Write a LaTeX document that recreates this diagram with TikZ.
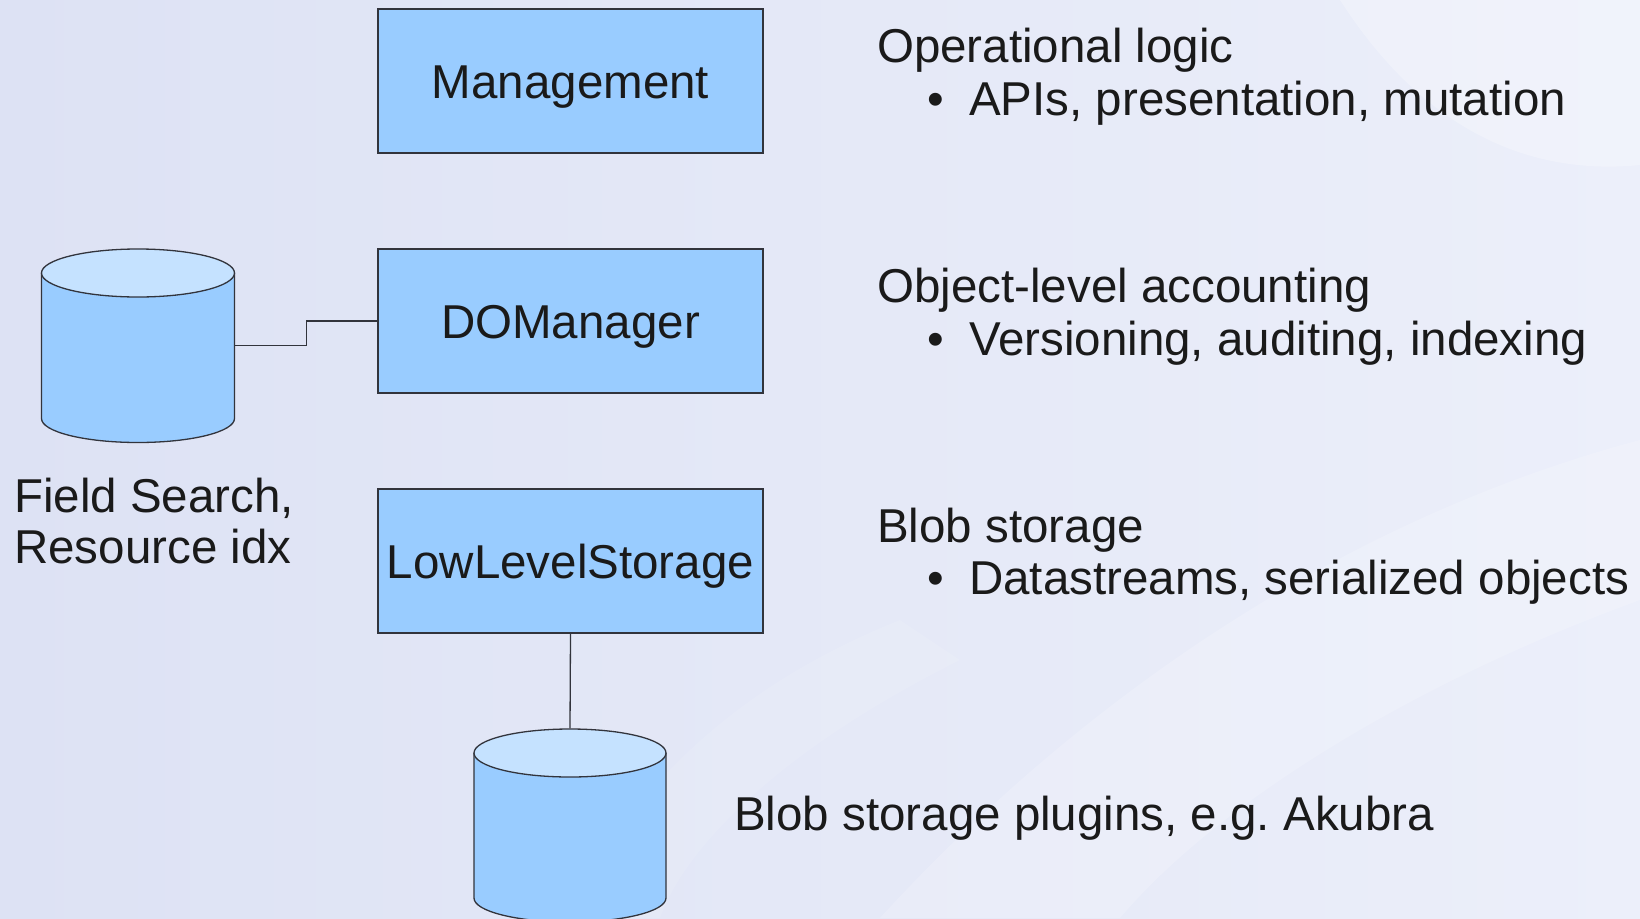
\documentclass[tikz,border=0pt]{standalone}
\usepackage{fontspec}
\setmainfont{Liberation Sans}
\definecolor{boxblue}{RGB}{153,204,255}
\definecolor{topblue}{RGB}{197,226,255}
\definecolor{linec}{RGB}{50,52,60}
\definecolor{txt}{RGB}{26,26,26}
\definecolor{bgl}{RGB}{221,226,244}
\definecolor{bgr}{RGB}{236,239,250}
\begin{document}
\frenchspacing
\begin{tikzpicture}[x=1pt,y=-1pt,
  box/.style={draw=linec, fill=boxblue, line width=1.3pt, minimum width=385pt, minimum height=144pt, inner sep=0pt, text height=35pt, text depth=0pt, font=\fontsize{47.5}{53}\selectfont, text=txt},
  lbl/.style={anchor=base west, inner sep=0pt, font=\fontsize{47.5}{53}\selectfont\frenchspacing, text=txt},
  cylarea/.style={inner sep=0pt, minimum width=193pt, minimum height=194pt},
  cylbody/.style={fill=boxblue},
  cylline/.style={draw=linec, line width=1.3pt},
  cyltop/.style={fill=topblue, draw=linec, line width=1.3pt},
  conn/.style={draw=linec, line width=1.3pt},
  sheen/.style={fill=white, opacity=0.25}]
\useasboundingbox (0,0) rectangle (1640,918);
% background
\shade[left color=bgl, right color=bgr] (0,0) rectangle (1640,918);
\fill[sheen] (1340,0) .. controls (1430,140) and (1540,175) .. (1640,165) -- (1640,0) -- cycle;
\fill[sheen, opacity=0.18] (880,918) .. controls (1080,700) and (1340,520) .. (1640,440) -- (1640,600) .. controls (1420,680) and (1220,800) .. (1120,918) -- cycle;
\fill[sheen, opacity=0.1] (560,918) .. controls (620,820) and (700,700) .. (900,620) -- (960,660) .. controls (760,760) and (680,860) .. (660,918) -- cycle;

% boxes
\node[box] (mgmt) at (570.5,81) {Management};
\node[box] (dom) at (570.5,321) {DOManager};
\node[box] (lls) at (570.5,561) {LowLevelStorage};

% left cylinder
\node[cylarea] (fs) at (138,345.5) {};
\fill[cylbody] (41.5,273) -- (41.5,418.5) .. controls (41.5,431.8) and (84.7,442.5) .. (138,442.5) .. controls (191.3,442.5) and (234.5,431.8) .. (234.5,418.5) -- (234.5,273) -- cycle;
\draw[cylline] (41.5,273) -- (41.5,418.5) .. controls (41.5,431.8) and (84.7,442.5) .. (138,442.5) .. controls (191.3,442.5) and (234.5,431.8) .. (234.5,418.5) -- (234.5,273);
\draw[cyltop] (138,273) ellipse [x radius=96.5, y radius=24];

% bottom cylinder
\node[cylarea] (blob) at (570,825.5) {};
\fill[cylbody] (474,753) -- (474,898) .. controls (474,911.3) and (517,922) .. (570,922) .. controls (623,922) and (666,911.3) .. (666,898) -- (666,753) -- cycle;
\draw[cylline] (474,753) -- (474,898) .. controls (474,911.3) and (517,922) .. (570,922) .. controls (623,922) and (666,911.3) .. (666,898) -- (666,753);
\draw[cyltop] (570,753) ellipse [x radius=96, y radius=24];

% connectors
\draw[conn] (fs.east) -- ++(71.5,0) |- (dom.west);
\draw[conn] (lls.south) -- (blob.north);

% labels
\node[lbl] (op) at (877,62) {Operational logic};
\node[lbl] (opb) at (927,115) {•};
\node[lbl] (opt) at (969,115) {APIs, presentation, mutation};
\node[lbl] (ob) at (877,302) {Object-level accounting};
\node[lbl] (obb) at (927,355) {•};
\node[lbl] (obt) at (969,355) {Versioning, auditing, indexing};
\node[lbl] (bs) at (877,542) {Blob storage};
\node[lbl] (bsb) at (927,594) {•};
\node[lbl] (bst) at (969,594) {Datastreams, serialized objects};
\node[lbl] (fsl1) at (14,512) {Field Search,};
\node[lbl] (fsl2) at (14,563) {Resource idx};
\node[lbl] (plug) at (734,830) {Blob storage plugins, e.g. Akubra};
\end{tikzpicture}
\end{document}
